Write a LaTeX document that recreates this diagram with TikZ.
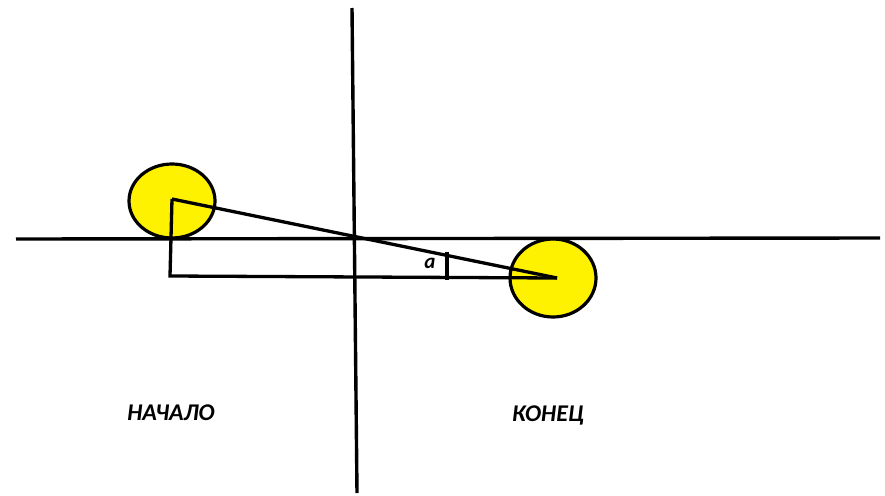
\documentclass[tikz,border=0pt]{standalone}
\usepackage{fontspec}
\setmainfont{Carlito}
\usetikzlibrary{shapes.geometric}

\definecolor{ballyellow}{RGB}{255,242,0}

\begin{document}
\begin{tikzpicture}[
  x=1pt,y=-1pt,
  ball/.style={draw,ellipse,fill=ballyellow,line width=3.2pt,inner sep=0pt,minimum width=86pt,minimum height=74pt},
  axis/.style={line width=3.4pt},
  leg/.style={line width=3.3pt},
  caption/.style={font=\bfseries\itshape\fontsize{24}{28}\selectfont}
]
  \useasboundingbox[fill=white] (0,0) rectangle (885,495);

  % balls at the start and the end
  \node[ball] (start-ball) at (172,201) {};
  \node[ball,minimum height=78pt] (end-ball) at (553,278) {};

  % axes
  \coordinate (axis-west) at (16,239);
  \coordinate (axis-east) at (880,238);
  \coordinate (axis-north) at (352,8);
  \coordinate (axis-south) at (357,493);
  \draw[axis] (axis-west) -- (axis-east);
  \draw[axis] (axis-north) -- (axis-south);

  % triangle
  \coordinate (start-pt) at (172,199);
  \coordinate (end-pt) at (557,278);
  \coordinate (corner) at (170,276);
  \draw[leg] (start-pt) -- (end-pt);
  \draw[leg,line join=miter] (start-pt) -- (corner) -- (end-pt);

  % angle mark
  \coordinate (tick-top) at (447,252);
  \coordinate (tick-bottom) at (447,280);
  \draw[leg] (tick-top) -- (tick-bottom);
  \node[font=\bfseries\itshape\fontsize{21}{24}\selectfont] (angle-label) at (430,263) {a};

  % captions
  \node[caption] (start-label) at (171,413) {НАЧАЛО};
  \node[caption] (end-label) at (548,415) {КОНЕЦ};
\end{tikzpicture}
\end{document}
